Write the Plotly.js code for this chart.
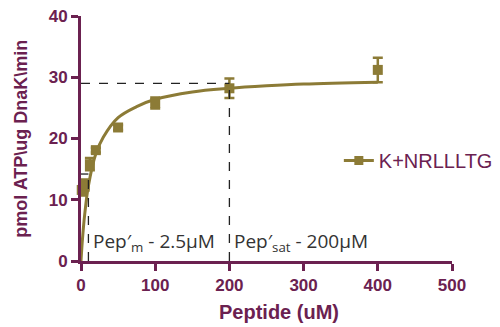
<!DOCTYPE html>
<html>
<head>
<meta charset="utf-8">
<script src="https://cdn.plot.ly/plotly-3.0.1.min.js"></script>
<style>html,body{margin:0;padding:0;background:#fff;}#chart{width:500px;height:327px;}</style>
</head>
<body>
<div id="chart"></div>
<script>
// Measured points (peptide uM, rate)
const peptideX = [1, 5, 12, 20, 50, 100, 200, 400];
const rateY = [11.6, 12.4, 15.8, 18.1, 21.8, 25.8, 28.2, 31.2];
const rateErr = [0.9, 0.9, 1.0, 0.4, 0.4, 0.9, 1.6, 2.0];
// Fitted curve
const fitX = [0, 2, 5, 10, 20, 30, 50, 75, 100, 150, 200, 250, 300, 400];
const fitY = [0, 3.6, 7.6, 12.3, 17.5, 20.2, 23.4, 25.2, 26.4, 27.6, 28.2, 28.6, 28.9, 29.2];
// Guide lines
const satX = 200, satY = 29;
const kmX = 10, kmY = 14.2;
const seriesName = 'K+NRLLLTG';
const xTicks = [0, 100, 200, 300, 400, 500];
const yTicks = [0, 10, 20, 30, 40];

const purple = '#6b2150';
const olive = '#8c7b36';
const sans = 'Liberation Sans, Arial, sans-serif';

const traces = [
  {x: fitX, y: fitY, mode: 'lines', line: {color: olive, width: 3, shape: 'spline'}, showlegend: false, hoverinfo: 'skip', cliponaxis: false},
  {x: peptideX, y: rateY, mode: 'markers', name: seriesName,
   marker: {symbol: 'square', size: 10, color: olive},
   error_y: {type: 'data', array: rateErr, visible: true, color: olive, thickness: 2.5, width: 5},
   showlegend: false, cliponaxis: false},
  {x: [null], y: [null], mode: 'lines+markers', name: seriesName,
   line: {color: olive, width: 3}, marker: {symbol: 'square', size: 9, color: olive}}
];

const layout = {
  width: 500, height: 327,
  margin: {l: 81, r: 48, t: 16, b: 66, autoexpand: false},
  paper_bgcolor: '#fff', plot_bgcolor: '#fff',
  font: {family: sans, color: purple},
  xaxis: {range: [0, 500], tickvals: xTicks, ticktext: xTicks.map(String), showgrid: false, zeroline: false,
    showline: true, linecolor: purple, linewidth: 3, ticks: 'outside', ticklen: 7, tickwidth: 3, tickcolor: purple,
    tickfont: {size: 17, color: purple, family: sans, weight: 'bold'}, automargin: false},
  yaxis: {range: [0, 40], tickvals: yTicks, ticktext: yTicks.map(String), showgrid: false, zeroline: false,
    showline: true, linecolor: purple, linewidth: 3, ticks: 'outside', ticklen: 7, tickwidth: 3, tickcolor: purple,
    tickfont: {size: 17, color: purple, family: sans, weight: 'bold'}, automargin: false},
  shapes: [
    {type: 'line', x0: 0, x1: satX, y0: satY, y1: satY, line: {color: '#222', width: 1.3, dash: 'dash'}},
    {type: 'line', x0: satX, x1: satX, y0: 0, y1: satY, line: {color: '#222', width: 1.3, dash: 'dash'}},
    {type: 'line', x0: kmX, x1: kmX, y0: 0, y1: kmY, line: {color: '#222', width: 1.3, dash: 'dash'}},
    {type: 'line', x0: 0, x1: kmX, y0: kmY, y1: kmY, line: {color: '#222', width: 1.3, dash: 'dash'}}
  ],
  annotations: [
    {x: 14, y: 0.5, xanchor: 'left', yanchor: 'bottom', showarrow: false,
     text: 'Pep′<sub>m</sub> - 2.5μM', font: {family: 'Open Sans, sans-serif', size: 19, color: '#333'}},
    {x: 204, y: 0.5, xanchor: 'left', yanchor: 'bottom', showarrow: false,
     text: 'Pep′<sub>sat</sub> - 200μM', font: {family: 'Open Sans, sans-serif', size: 19, color: '#333'}},
    {xref: 'paper', yref: 'paper', x: 0.534, y: -0.208, xanchor: 'center', yanchor: 'middle', showarrow: false,
     text: '<b>Peptide (uM)</b>', font: {family: sans, size: 20, color: purple}},
    {xref: 'paper', yref: 'paper', x: -0.164, y: 0.5, xanchor: 'center', yanchor: 'middle', showarrow: false, textangle: -90,
     text: '<b>pmol ATP\\ug DnaK\\min</b>', font: {family: sans, size: 18, color: purple}}
  ],
  legend: {x: 0.695, y: 0.41, xanchor: 'left', yanchor: 'middle', bgcolor: 'rgba(0,0,0,0)',
    font: {size: 20, color: purple, family: sans}, itemwidth: 30}
};

Plotly.newPlot('chart', traces, layout, {displayModeBar: false, staticPlot: true});
</script>
</body>
</html>
